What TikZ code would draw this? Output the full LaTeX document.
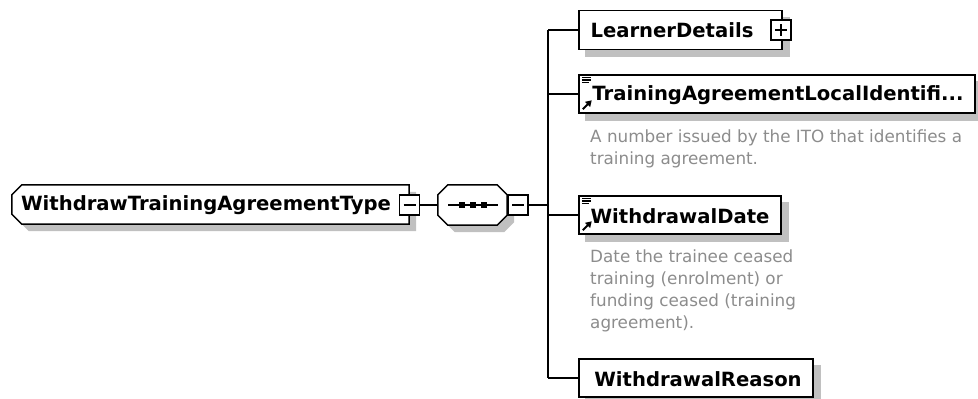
\documentclass[tikz,border=0pt]{standalone}
\usepackage{fontspec}
\setmainfont{DejaVu Sans}
\usetikzlibrary{calc,arrows.meta}
\definecolor{shadowgray}{RGB}{192,192,192}
\definecolor{docgray}{RGB}{140,140,140}
\pgfdeclarelayer{bg}
\pgfsetlayers{bg,main}
\tikzset{
  box/.style={draw=black, line width=1.5pt, fill=white, inner sep=0pt, rectangle},
  ghost/.style={draw=none, inner sep=0pt, rectangle},
  pmbox/.style={draw=black, line width=1.3pt, fill=white, minimum size=20pt, inner sep=0pt, rectangle},
  conn/.style={line width=1.3pt},
  shad/.style={fill=shadowgray, draw=none},
  lbl/.style={font=\bfseries\fontsize{19.6}{22}\selectfont, inner sep=0pt},
  doc/.style={font=\fontsize{16.8}{22}\selectfont, text=docgray, align=left, anchor=north west, inner sep=0pt},
  icon/.style={line width=1.2pt},
}
\begin{document}
\begin{tikzpicture}[x=1pt,y=-1pt]
\useasboundingbox (0,0) rectangle (978,399);

% ---------- root complex type ----------
\node[ghost, minimum width=397pt, minimum height=39pt] (root) at (210.5,204.5) {};
\begin{pgfonlayer}{bg}
\fill[shad] ($(root.north west)+(17,7)$) -- ($(root.north east)+(7,7)$) -- ($(root.south east)+(7,7)$) -- ($(root.south west)+(17,7)$) -- ($(root.south west)+(7,-3)$) -- ($(root.north west)+(7,17)$) -- cycle;
\end{pgfonlayer}
\draw[line width=1.5pt, fill=white] ($(root.north west)+(10,0)$) -- (root.north east) -- (root.south east) -- ($(root.south west)+(10,0)$) -- ($(root.south west)+(0,-10)$) -- ($(root.north west)+(0,10)$) -- cycle;
\node[lbl] (rootlbl) at (206,205) {WithdrawTrainingAgreementType};
\node[pmbox] (rm) at (409.5,205) {};
\draw[icon] ($(rm.center)+(-6,0)$) -- ($(rm.center)+(6,0)$);

% ---------- sequence compositor ----------
\node[ghost, minimum width=69pt, minimum height=40pt] (seq) at (472.5,205) {};
\begin{pgfonlayer}{bg}
\fill[shad] ($(seq.north west)+(17,7)$) -- ($(seq.north east)+(-3,7)$) -- ($(seq.north east)+(7,17)$) -- ($(seq.south east)+(7,-3)$) -- ($(seq.south east)+(-3,7)$) -- ($(seq.south west)+(17,7)$) -- ($(seq.south west)+(7,-3)$) -- ($(seq.north west)+(7,17)$) -- cycle;
\end{pgfonlayer}
\draw[line width=1.5pt, fill=white] ($(seq.north west)+(10,0)$) -- ($(seq.north east)+(-10,0)$) -- ($(seq.north east)+(0,10)$) -- ($(seq.south east)+(0,-10)$) -- ($(seq.south east)+(-10,0)$) -- ($(seq.south west)+(10,0)$) -- ($(seq.south west)+(0,-10)$) -- ($(seq.north west)+(0,10)$) -- cycle;
\draw[line width=1.2pt] ($(seq.center)+(-24.5,0)$) -- ($(seq.center)+(25.5,0)$);
\foreach \dx in {-10.5,0.5,11.5}
  \fill ($(seq.center)+(\dx-3,-3)$) rectangle ++(6,6);
\node[pmbox] (sm) at (518,205) {};
\draw[icon] ($(sm.center)+(-6,0)$) -- ($(sm.center)+(6,0)$);

\draw[conn] (rm.east) -- (seq.west);

% ---------- bus ----------
\coordinate (bustop) at (548,30);
\coordinate (busbot) at (548,378);
\draw[conn] (bustop) -- (busbot);
\draw[conn] (sm.east) -- (sm.east -| bustop);

% ---------- children ----------
\node[box, minimum width=203pt, minimum height=39pt] (ld) at (680.5,30) {};
\node[box, minimum width=396pt, minimum height=38pt] (ta) at (777,94) {};
\node[box, minimum width=202pt, minimum height=38pt] (wd) at (680,215) {};
\node[box, minimum width=234pt, minimum height=38pt] (wr) at (696,378) {};
\begin{pgfonlayer}{bg}
\foreach \n in {ld,ta,wd,wr}
  \fill[shad] ($(\n.north west)+(7,7)$) rectangle ($(\n.south east)+(7,7)$);
\end{pgfonlayer}

\node[lbl] (ldlbl) at (672,30) {LearnerDetails};
\node[pmbox] (lp) at (781,30) {};
\draw[icon] ($(lp.center)+(-6,0)$) -- ($(lp.center)+(6,0)$);
\draw[icon] ($(lp.center)+(0,-6)$) -- ($(lp.center)+(0,6)$);

\node[lbl] (talbl) at (778,95) {TrainingAgreementLocalIdentifi...};
\node[lbl] (wdlbl) at (680,216) {WithdrawalDate};
\node[lbl] (wrlbl) at (698,379) {WithdrawalReason};

% simple-type icons
\foreach \n in {ta,wd}{
  \draw[icon] ($(\n.north west)+(4,3)$) -- ++(9,0);
  \draw[icon] ($(\n.north west)+(4,5.7)$) -- ++(9,0);
  \draw[icon] ($(\n.north west)+(4,8.4)$) -- ++(7,0);
  \draw[line width=2pt, -{Triangle[length=6pt,width=7pt]}] ($(\n.south west)+(4.5,-4.5)$) -- ++(9,-9);
}

% connectors to children
\draw[conn] (bustop) -- (ld.west);
\draw[conn] (ta.west -| bustop) -- (ta.west);
\draw[conn] (wd.west -| bustop) -- (wd.west);
\draw[conn] (busbot) -- (wr.west);

% documentation
\node[doc] (tadoc) at (590,130) {A number issued by the ITO that identifies a\\training agreement.};
\node[doc] (wddoc) at (590,250) {Date the trainee ceased\\training (enrolment) or\\funding ceased (training\\agreement).};
\end{tikzpicture}
\end{document}
